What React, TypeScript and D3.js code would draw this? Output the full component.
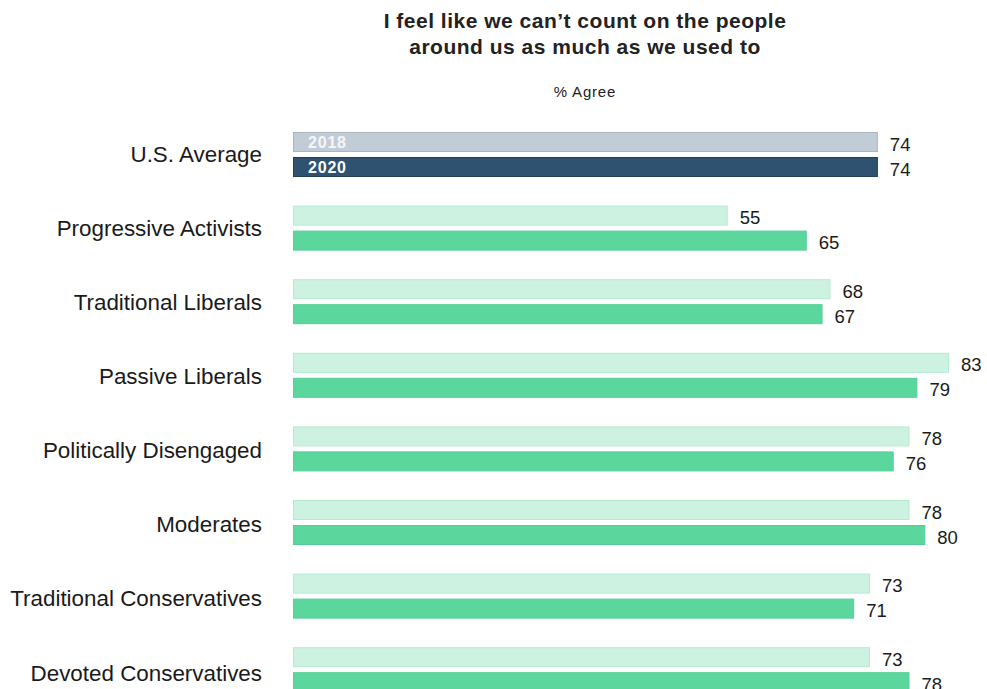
import React, { useLayoutEffect } from "react";
import * as d3 from "d3";

const categories = [
  "U.S. Average",
  "Progressive Activists",
  "Traditional Liberals",
  "Passive Liberals",
  "Politically Disengaged",
  "Moderates",
  "Traditional Conservatives",
  "Devoted Conservatives",
];
const years = ["2018", "2020"];
const values2018 = [74, 55, 68, 83, 78, 78, 73, 73];
const values2020 = [74, 65, 67, 79, 76, 80, 71, 78];
const titleLines = ["I feel like we can’t count on the people", "around us as much as we used to"];
const subtitle = "% Agree";

const W = 987;
const H = 689;
const FONT = "'Liberation Sans', Arial, Helvetica, sans-serif";

export default function App() {
  useLayoutEffect(() => {
    document.body.style.margin = "0";
    document.body.style.overflow = "hidden";
  }, []);

  const x = d3.scaleLinear().domain([0, 83]).range([293, 949]);
  const step = 73.6;
  const p = (step - 45) / step;
  const y = d3
    .scaleBand<string>()
    .domain(categories)
    .range([132 - (step * p) / 2, 132 - (step * p) / 2 + categories.length * step])
    .paddingInner(p)
    .paddingOuter(p / 2);
  const yy = d3.scaleBand<string>().domain(years).range([0, y.bandwidth()]).paddingInner(0.2);
  const labelY = d3.scalePoint<string>().domain(categories).range([153.5, 672.5]);

  const colors = (i: number, yr: string) => {
    if (i === 0) return yr === "2018" ? { fill: "#c2ccd6", stroke: "#aab7c3" } : { fill: "#2e5270", stroke: "#243f57" };
    return yr === "2018" ? { fill: "#cef2e2", stroke: "#b3ebd1" } : { fill: "#5bd79e", stroke: "#52cf94" };
  };

  return (
    <div style={{ width: W, height: H, overflow: "hidden" }}>
      <svg width={W} height={H} style={{ display: "block", fontFamily: FONT }}>
        <rect width={W} height={H} fill="#ffffff" />
        {titleLines.map((t, i) => (
          <text
            key={i}
            x={585}
            y={27.5 + i * 26}
            textAnchor="middle"
            fontSize={21}
            fontWeight={700}
            letterSpacing={0.5}
            fill="#222"
          >
            {t}
          </text>
        ))}
        <text x={585} y={96.5} textAnchor="middle" fontSize={15} letterSpacing={0.8} fill="#222">
          {subtitle}
        </text>
        {categories.map((c, i) => {
          const y0 = y(c)!;
          return (
            <g key={c}>
              <text x={262} y={labelY(c)! + 8} textAnchor="end" fontSize={22.4} fill="#1a1a1a">
                {c}
              </text>
              {years.map((yr) => {
                const v = yr === "2018" ? values2018[i] : values2020[i];
                const by = y0 + yy(yr)!;
                const col = colors(i, yr);
                return (
                  <g key={yr}>
                    <rect
                      x={x(0) + 0.5}
                      y={by + 0.5}
                      width={x(v) - x(0) - 1}
                      height={yy.bandwidth() - 1}
                      fill={col.fill}
                      stroke={col.stroke}
                      strokeWidth={1}
                    />
                    <text x={x(v) + 12} y={by + 18.5} fontSize={18.5} fill="#1a1a1a">
                      {v}
                    </text>
                    {i === 0 && (
                      <text
                        x={x(0) + 15}
                        y={by + 16}
                        fontSize={16}
                        fontWeight={700}
                        letterSpacing={0.8}
                        fill={yr === "2018" ? "#f4f6f8" : "#ffffff"}
                      >
                        {yr}
                      </text>
                    )}
                  </g>
                );
              })}
            </g>
          );
        })}
      </svg>
    </div>
  );
}
